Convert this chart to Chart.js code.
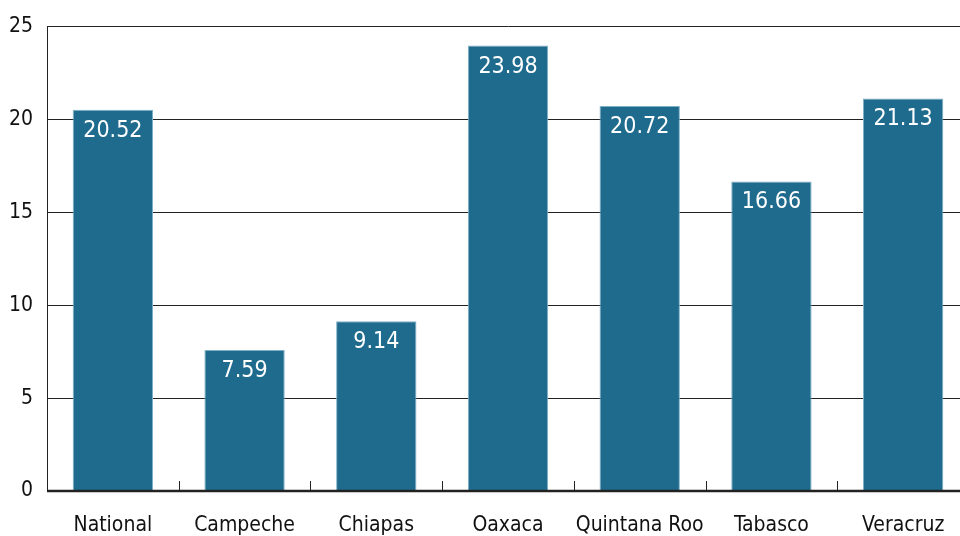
<!DOCTYPE html>
<html>
<head>
<meta charset="utf-8">
<script src="https://cdn.jsdelivr.net/npm/chart.js@4"></script>
<style>
  html, body { margin: 0; padding: 0; background: #fff; overflow: hidden; }
  #wrap { width: 969px; height: 536px; }
</style>
</head>
<body>
<div id="wrap"><canvas id="chart"></canvas></div>
<script>
const categories = ['National', 'Campeche', 'Chiapas', 'Oaxaca', 'Quintana Roo', 'Tabasco', 'Veracruz'];
const values = [20.52, 7.59, 9.14, 23.98, 20.72, 16.66, 21.13];
const yTicks = [0, 5, 10, 15, 20, 25];

const FONT = '"Liberation Sans Narrow", "DejaVu Sans Condensed", "Roboto Condensed", sans-serif';
const BAR_COLOR = '#1f6b8e';

// short tick marks between categories, drawn upward from the x axis
const innerTicks = {
    id: 'innerTicks',
    afterDraw(chart) {
        const x = chart.scales.x;
        const area = chart.chartArea;
        const ctx = chart.ctx;
        ctx.save();
        ctx.strokeStyle = '#222';
        ctx.lineWidth = 1;
        for (let i = 1; i < categories.length; i++) {
            const px = Math.round((x.getPixelForValue(i - 1) + x.getPixelForValue(i)) / 2) + 0.5;
            ctx.beginPath();
            ctx.moveTo(px, area.bottom);
            ctx.lineTo(px, area.bottom - 10);
            ctx.stroke();
        }
        // heavier baseline
        ctx.lineWidth = 2.5;
        ctx.beginPath();
        ctx.moveTo(area.left, area.bottom);
        ctx.lineTo(area.right, area.bottom);
        ctx.stroke();
        ctx.restore();
    }
};

// value labels in white near the top of each bar
const barLabels = {
    id: 'barLabels',
    afterDatasetsDraw(chart) {
        const ctx = chart.ctx;
        const meta = chart.getDatasetMeta(0);
        ctx.save();
        ctx.fillStyle = '#fff';
        ctx.font = '23px ' + FONT;
        ctx.textAlign = 'center';
        ctx.textBaseline = 'middle';
        meta.data.forEach((bar, i) => {
            ctx.fillText(values[i].toFixed(2), bar.x, bar.y + 21);
        });
        ctx.restore();
    }
};

new Chart(document.getElementById('chart'), {
    type: 'bar',
    data: {
        labels: categories,
        datasets: [{
            data: values,
            backgroundColor: BAR_COLOR,
            borderColor: '#7fb0c8',
            borderWidth: 1,
            barPercentage: 0.61,
            categoryPercentage: 1
        }]
    },
    options: {
        responsive: true,
        maintainAspectRatio: false,
        animation: false,
        layout: { padding: { top: 25, right: 0, left: 0, bottom: 0 } },
        plugins: {
            legend: { display: false },
            tooltip: { enabled: false }
        },
        scales: {
            x: {
                grid: { display: false },
                border: { display: false },
                ticks: {
                    color: '#111',
                    font: { family: FONT, size: 21 },
                    padding: 14,
                    maxRotation: 0,
                    autoSkip: false
                },
                afterFit(scale) { scale.height = 45; }
            },
            y: {
                min: 0,
                max: 25,
                afterBuildTicks(scale) { scale.ticks = yTicks.map(v => ({ value: v })); },
                grid: { color: '#222', lineWidth: 1, drawTicks: false },
                border: { display: true, color: '#222', width: 1 },
                ticks: {
                    color: '#111',
                    font: { family: FONT, size: 21 },
                    padding: 14
                },
                afterFit(scale) { scale.width = 47; }
            }
        }
    },
    plugins: [innerTicks, barLabels]
});
</script>
</body>
</html>
